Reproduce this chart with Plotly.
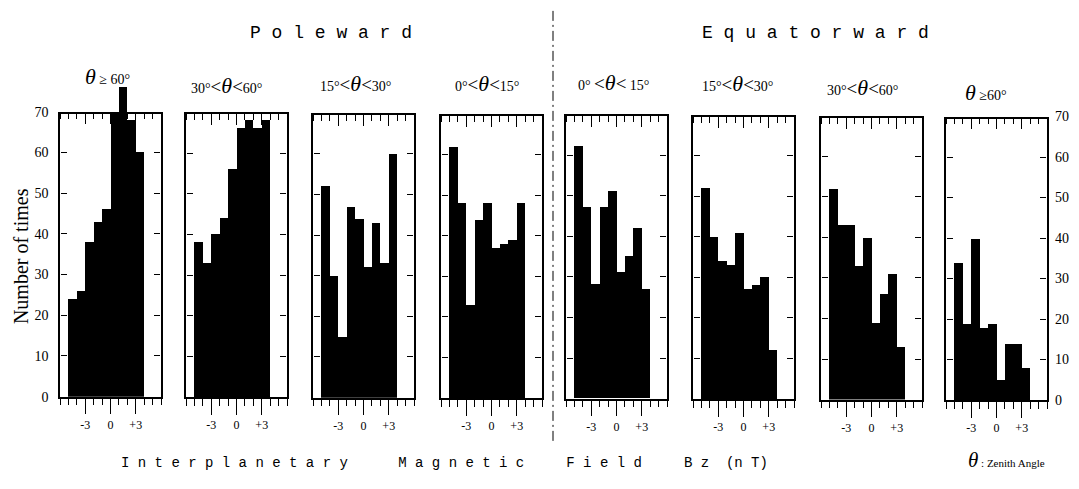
import plotly.graph_objects as go

# ---------------- data ----------------
bz_bin_centers = [-4.5, -3.5, -2.5, -1.5, -0.5, 0.5, 1.5, 2.5, 3.5]

pole_ge60 = [24, 26, 38, 43, 46, 70, 76, 68, 60]
pole_30_60 = [38, 33, 40, 44, 56, 66, 68, 66, 68]
pole_15_30 = [52, 30, 15, 47, 44, 32, 43, 33, 60]
pole_0_15 = [62, 48, 23, 44, 48, 37, 38, 39, 48]
equa_0_15 = [62, 47, 28, 47, 51, 31, 35, 42, 27]
equa_15_30 = [52, 40, 34, 33, 41, 27, 28, 30, 12]
equa_30_60 = [52, 43, 43, 33, 40, 19, 26, 31, 13]
equa_ge60 = [34, 19, 40, 18, 19, 5, 14, 14, 8]

series = [pole_ge60, pole_30_60, pole_15_30, pole_0_15,
          equa_0_15, equa_15_30, equa_30_60, equa_ge60]

x_tickvals = [-3, 0, 3]
x_ticktext = ["-3", "0", "+3"]
y_tickvals = [0, 10, 20, 30, 40, 50, 60, 70]
y_inner_tickvals = [10, 20, 30, 40, 50, 60]
y_ticktext_left = [f"{v}\u00a0\u00a0" for v in y_tickvals]
y_ticktext_right = [f"\u00a0{v}" for v in y_tickvals]

TH = "<span style='font-size:22px'><i>θ</i></span>"
LT = "<span style='font-size:19px'>&lt;</span>"
panel_titles = [
    TH + " ≥ 60°",
    "30°" + LT + TH + LT + "60°",
    "15°" + LT + TH + LT + "30°",
    "0°" + LT + TH + LT + "15°",
    "0° " + LT + TH + LT + " 15°",
    "15°" + LT + TH + LT + "30°",
    "30°" + LT + TH + LT + "60°",
    TH + " ≥60°",
]

# ---------------- layout geometry (pixels) ----------------
W, H = 1079, 489
lefts = [60, 186, 313, 441, 566, 693, 821, 946]
pw = 101
tops = [108 + 5 * i / 7 for i in range(8)]
bottoms = [402 + 3.5 * i / 7 for i in range(8)]
title_x = [107, 226, 355, 487, 613, 737, 863, 986]
title_y = [72, 81, 79, 79, 78, 79, 83, 88]
Y_FRAME_MAX = 70
Y_EXT_MAX = 80  # hidden axis for panel 1 so the tallest bar may rise over the frame
STUB = 0.015    # size of the hidden helper domains (paper fraction)

SERIF = "Liberation Serif, Times New Roman, serif"
MONO = "Liberation Mono, DejaVu Sans Mono, monospace"


def px(x):
    return x / W


def py(y):
    return 1 - y / H


def ghost(xa, ya):
    # invisible trace that only makes a subplot (and its axes) exist
    return go.Scatter(x=[0], y=[35], mode="markers", marker=dict(opacity=0, size=1),
                      xaxis=xa, yaxis=ya, hoverinfo="skip", showlegend=False)


def hidden(domain, anchor):
    return dict(domain=domain, anchor=anchor, visible=False, fixedrange=True)


fig = go.Figure()
layout = dict(
    width=W, height=H, autosize=False,
    margin=dict(l=0, r=0, t=0, b=0),
    paper_bgcolor="white", plot_bgcolor="rgba(0,0,0,0)",
    showlegend=False, bargap=0,
)

for i, vals in enumerate(series):
    n = i + 1
    xa = "x" if n == 1 else f"x{n}"
    ya = "y" if n == 1 else f"y{n}"
    left_px, right_px = lefts[i], lefts[i] + pw
    dom_x = [px(left_px), px(right_px)]
    dom_y = [py(bottoms[i]), py(tops[i])]

    # helper axis names
    x_top, y_top_stub = f"x{n + 8}", f"y{n + 40}"
    x_l_stub, y_l = f"x{n + 20}", f"y{n + 20}"
    x_r_stub, y_r = f"x{n + 30}", f"y{n + 30}"

    if n == 1:
        ext_top = bottoms[i] - (bottoms[i] - tops[i]) * Y_EXT_MAX / Y_FRAME_MAX
        layout["yaxis17"] = dict(
            domain=[py(bottoms[i]), py(ext_top)], range=[0, Y_EXT_MAX],
            anchor=xa, visible=False, fixedrange=True,
        )
        bar_y = "y17"
        fig.add_trace(ghost(xa, ya))
    else:
        bar_y = ya

    fig.add_trace(go.Bar(
        x=bz_bin_centers, y=vals, width=1,
        marker=dict(color="black", line=dict(width=0)),
        xaxis=xa, yaxis=bar_y, hoverinfo="skip",
    ))
    fig.add_trace(ghost(x_top, y_top_stub))
    fig.add_trace(ghost(x_l_stub, y_l))
    fig.add_trace(ghost(x_r_stub, y_r))

    # bottom axis: outward ticks with labels
    layout[f"xaxis{'' if n == 1 else n}"] = dict(
        domain=dom_x, range=[-6, 6], anchor=ya,
        showline=True, linecolor="black", linewidth=1.5,
        showgrid=False, zeroline=False,
        ticks="outside", tickvals=x_tickvals, ticktext=x_ticktext,
        ticklen=16, tickwidth=1.3, tickcolor="black",
        minor=dict(tickmode="linear", tick0=0, dtick=1, ticks="outside",
                   ticklen=7, tickwidth=1, tickcolor="black", showgrid=False),
        tickfont=dict(family=SERIF, size=12, color="black"),
        fixedrange=True,
    )
    # frame sides (lines) and outer-panel count labels
    layout[f"yaxis{'' if n == 1 else n}"] = dict(
        domain=dom_y, range=[0, Y_FRAME_MAX], anchor=xa,
        showline=True, linecolor="black", linewidth=1.5, mirror=True,
        showgrid=False, zeroline=False,
        ticks="", tickvals=y_tickvals,
        ticktext=(y_ticktext_right if n == 8 else y_ticktext_left),
        showticklabels=(n in (1, 8)), side=("right" if n == 8 else "left"),
        tickfont=dict(family=SERIF, size=14, color="black"),
        fixedrange=True,
    )

    # top frame: a bottom-side axis sitting on the frame's top edge -> ticks point down
    layout[f"yaxis{n + 40}"] = hidden([py(tops[i]), py(tops[i]) + STUB], x_top)
    layout[f"xaxis{n + 8}"] = dict(
        domain=dom_x, range=[-6, 6], anchor=y_top_stub, side="bottom",
        showline=True, linecolor="black", linewidth=1.5,
        showgrid=False, zeroline=False,
        ticks="outside", tickvals=x_tickvals, showticklabels=False,
        ticklen=11, tickwidth=1.3, tickcolor="black",
        minor=dict(tickmode="linear", tick0=0, dtick=1, ticks="outside",
                   ticklen=6, tickwidth=1.1, tickcolor="black", showgrid=False),
        fixedrange=True,
    )
    # left edge: a right-side axis sitting on the frame's left edge -> ticks point right
    layout[f"xaxis{n + 20}"] = hidden([px(left_px) - STUB, px(left_px)], y_l)
    layout[f"yaxis{n + 20}"] = dict(
        domain=dom_y, range=[0, Y_FRAME_MAX], anchor=x_l_stub, side="right",
        showline=False, showgrid=False, zeroline=False,
        ticks="outside", tickvals=y_inner_tickvals, showticklabels=False,
        ticklen=6, tickwidth=1.3, tickcolor="black", fixedrange=True,
    )
    # right edge: a left-side axis sitting on the frame's right edge -> ticks point left
    layout[f"xaxis{n + 30}"] = hidden([px(right_px), px(right_px) + STUB], y_r)
    layout[f"yaxis{n + 30}"] = dict(
        domain=dom_y, range=[0, Y_FRAME_MAX], anchor=x_r_stub, side="left",
        showline=False, showgrid=False, zeroline=False,
        ticks="outside", tickvals=y_inner_tickvals, showticklabels=False,
        ticklen=6, tickwidth=1.3, tickcolor="black", fixedrange=True,
    )

annotations = []
for i, t in enumerate(panel_titles):
    annotations.append(dict(
        text=t, x=px(title_x[i]), y=py(title_y[i]), xref="paper", yref="paper",
        xanchor="center", yanchor="middle", showarrow=False,
        font=dict(family=SERIF, size=14, color="black"),
    ))

annotations += [
    dict(text="P o l e w a r d", x=px(331), y=py(27), xref="paper", yref="paper",
         xanchor="center", yanchor="middle", showarrow=False,
         font=dict(family=MONO, size=18, color="black")),
    dict(text="E q u a t o r w a r d", x=px(815), y=py(27), xref="paper", yref="paper",
         xanchor="center", yanchor="middle", showarrow=False,
         font=dict(family=MONO, size=18, color="black")),
    dict(text="I n t e r p l a n e t a r y" + "\u00a0" * 6 + "M a g n e t i c" + "\u00a0" * 5
         + "F i e l d" + "\u00a0" * 5 + "B z\u00a0\u00a0(n T)",
         x=px(119), y=py(470), xref="paper", yref="paper",
         xanchor="left", yanchor="middle", showarrow=False,
         font=dict(family=MONO, size=14, color="black")),
    dict(text="<span style='font-size:21px'><i>θ</i></span> : Zenith Angle",
         x=px(966), y=py(467), xref="paper", yref="paper",
         xanchor="left", yanchor="middle", showarrow=False,
         font=dict(family=SERIF, size=11, color="black")),
    dict(text="Number of times", x=px(21), y=py(257), xref="paper", yref="paper",
         xanchor="center", yanchor="middle", showarrow=False, textangle=-90,
         font=dict(family=SERIF, size=20, color="black")),
]
layout["annotations"] = annotations
layout["shapes"] = [dict(
    type="line", xref="paper", yref="paper",
    x0=px(553), x1=px(553), y0=py(4), y1=py(450),
    line=dict(color="black", width=1, dash="10px,4px,2px,4px"),
)]

fig.update_layout(**layout)
fig.write_html("out.html")
